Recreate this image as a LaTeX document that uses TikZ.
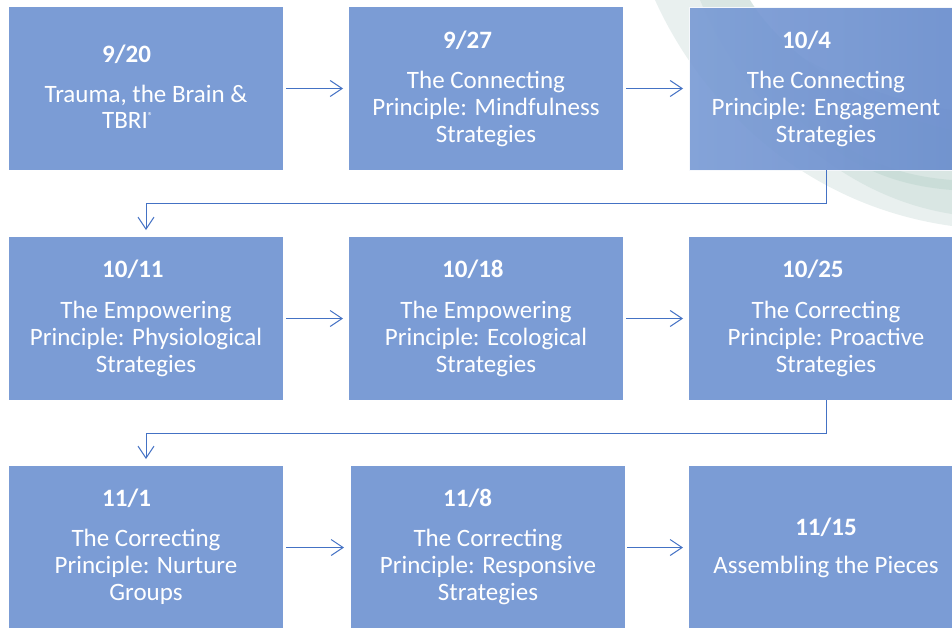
\documentclass[tikz,border=0pt]{standalone}
\usepackage{fontspec}
\setmainfont{Carlito}
\usetikzlibrary{arrows.meta,calc}
\definecolor{boxc}{HTML}{7B9CD5}
\definecolor{boxd}{HTML}{6A8DCD}
\definecolor{arrc}{HTML}{4472C4}
\definecolor{swA}{HTML}{E9F0EF}
\definecolor{swB}{HTML}{D9E6E3}
\definecolor{swC}{HTML}{BCD6CE}
\begin{document}
\begin{tikzpicture}[x=1pt,y=-1pt,
 box/.style={fill=boxc, draw=none, minimum width=274pt, minimum height=163pt, inner sep=0pt, outer sep=0pt},
 datelbl/.style={text=white, font=\fontsize{25}{27}\selectfont\bfseries, anchor=base west, inner sep=0pt},
 body/.style={text=white, font=\fontsize{25}{27}\selectfont, align=center, anchor=base, inner sep=0pt},
 arr/.style={draw=arrc, line width=1pt, -{Straight Barb[length=12pt,width=16pt,line width=1pt]}},
]
\useasboundingbox (0,0) rectangle (952,627);
\clip (0,0) rectangle (952,627);
% background swoosh
\fill[swA] (655,0) .. controls (700,100) and (800,205) .. (952,226) -- (952,110) .. controls (850,95) and (760,40) .. (735,0) -- cycle;
\fill[swB] (700,0) .. controls (740,95) and (830,195) .. (952,214) -- (952,130) .. controls (860,110) and (780,50) .. (750,0) -- cycle;
\fill[swC,opacity=0.5] (800,110) .. controls (850,160) and (900,176) .. (952,180) -- (952,190) .. controls (900,186) and (850,170) .. (800,120) -- cycle;
% boxes
\node[box] (b1) at (146,88.5) {};
\node[box] (b2) at (486,88.5) {};
\node[box, fill=none, left color=boxc, right color=boxd, draw=white, line width=1pt, opacity=0.93] (b3) at (826,88.5) {};
\node[box] (b4) at (146,318.5) {};
\node[box] (b5) at (486,318.5) {};
\node[box] (b6) at (826,318.5) {};
\node[box] (b7) at (146,547.5) {};
\node[box] (b8) at (488,547.5) {};
\node[box] (b9) at (826,547.5) {};
% texts (multi-line bodies are anchored at the baseline of their last line)
\node[datelbl] (d1) at (102,62) {9/20};
\node[body] (t1) at (146,102) {Trauma, the Brain \&};
\node[text=white, font=\fontsize{25}{27}\selectfont, anchor=base west, inner sep=0pt] (t1b) at (102,128) {TBRI\raisebox{9pt}{\fontsize{10}{10}\selectfont ®}};
\node[datelbl] (d2) at (443,48) {9/27};
\node[body] (t2) at (486,142) {The Connecting\\Principle: Mindfulness\\Strategies};
\node[datelbl] (d3) at (782,48) {10/4};
\node[body] (t3) at (826,142) {The Connecting\\Principle: Engagement\\Strategies};
\node[datelbl] (d4) at (102,277) {10/11};
\node[body] (t4) at (146,372) {The Empowering\\Principle: Physiological\\Strategies};
\node[datelbl] (d5) at (442,277) {10/18};
\node[body] (t5) at (486,372) {The Empowering\\Principle: Ecological\\Strategies};
\node[datelbl] (d6) at (782,277) {10/25};
\node[body] (t6) at (826,372) {The Correcting\\Principle: Proactive\\Strategies};
\node[datelbl] (d7) at (102,506) {11/1};
\node[body] (t7) at (146,600) {The Correcting\\Principle: Nurture\\Groups};
\node[datelbl] (d8) at (443,506) {11/8};
\node[body] (t8) at (488,600) {The Correcting\\Principle: Responsive\\Strategies};
\node[text=white, font=\fontsize{25}{27}\selectfont\bfseries, anchor=base, inner sep=0pt] (d9) at (826,535) {11/15};
\node[body] (t9) at (826,573) {Assembling the Pieces};
% connectors
\draw[arr, shorten <=3pt, shorten >=6pt] (b1) -- (b2);
\draw[arr, shorten <=3pt, shorten >=6pt] (b2) -- (b3);
\draw[arr, shorten >=7pt] (b3.south) -- ++(0,33) -| (b4.north);
\draw[arr, shorten <=3pt, shorten >=6pt] (b4) -- (b5);
\draw[arr, shorten <=3pt, shorten >=6pt] (b5) -- (b6);
\draw[arr, shorten >=7pt] (b6.south) -- ++(0,33) -| (b7.north);
\draw[arr, shorten <=3pt, shorten >=7pt] (b7) -- (b8);
\draw[arr, shorten <=2pt, shorten >=6pt] (b8) -- (b9);
\end{tikzpicture}
\end{document}
